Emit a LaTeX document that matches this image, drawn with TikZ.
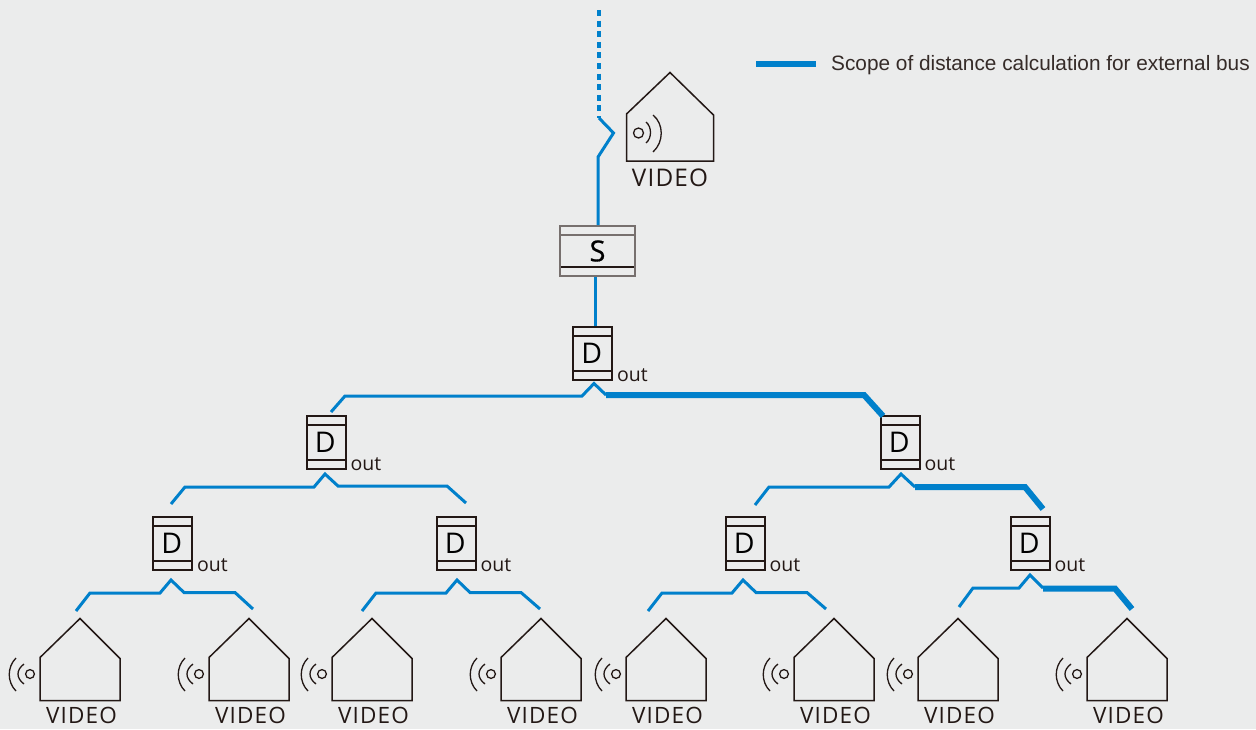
\documentclass[tikz,border=0pt]{standalone}
\usepackage{fontspec}
\setmainfont{Open Sans}
\newfontfamily\legendfont{Liberation Sans}
\newfontfamily\videofont[LetterSpace=5]{Open Sans}
\newfontfamily\sfont[FakeBold=0.6]{Open Sans}
\definecolor{bg}{HTML}{EBECEC}
\definecolor{bus}{HTML}{0080CB}
\definecolor{ink}{HTML}{231815}
\tikzset{
  x=1pt,y=-1pt,
  busline/.style={draw=bus,line width=3pt,line join=miter},
  busthick/.style={draw=bus,line width=6pt,line join=miter},
  busdash/.style={draw=bus,line width=3.4pt,dash pattern=on 6pt off 4.6pt},
  outline/.style={draw=ink,line width=1.5pt,line join=miter},
  dbox/.style={draw=ink,line width=2pt,minimum width=39pt,minimum height=53pt,inner sep=0pt,
    font=\fontsize{28.5}{28.5}\selectfont,
    path picture={
      \draw[ink,line width=1.8pt] ([yshift=-9pt]path picture bounding box.north west) -- ([yshift=-9pt]path picture bounding box.north east);
      \draw[ink,line width=1.8pt] ([yshift=9pt]path picture bounding box.south west) -- ([yshift=9pt]path picture bounding box.south east);
    }},
  sbox/.style={draw=ink!62,line width=2pt,minimum width=75pt,minimum height=50pt,inner sep=0pt,
    font=\sfont\fontsize{29}{29}\selectfont,
    path picture={
      \draw[ink!62,line width=1.5pt] ([yshift=-9pt]path picture bounding box.north west) -- ([yshift=-9pt]path picture bounding box.north east);
      \draw[ink,line width=1.5pt] ([yshift=9pt]path picture bounding box.south west) -- ([yshift=9pt]path picture bounding box.south east);
    }},
  outlabel/.style={font=\fontsize{19.5}{19.5}\selectfont,text=ink,inner sep=0pt,anchor=base west},
  videolabel/.style={font=\videofont\fontsize{22.5}{22.5}\selectfont,text=ink,inner sep=0pt,anchor=base},
  videotop/.style={font=\videofont\fontsize{24.3}{24.3}\selectfont,text=ink,inner sep=0pt,anchor=base},
  legendlabel/.style={font=\legendfont\fontsize{20.8}{20.8}\selectfont,text=ink!92,inner sep=0pt,anchor=base west},
  housebody/.style={minimum width=80pt,minimum height=82pt,inner sep=0pt},
}
% #1 name, #2 apex x: house with aerial to the left and its label
\newcommand{\camhouse}[2]{%
  \node[housebody,anchor=north] (#1) at (#2,618.5) {};
  \draw[outline] (#1.north) -- ++(-40,39) -- ++(0,43) -- ++(80,0) -- ++(0,-42) -- cycle;
  \draw[ink,line width=1.3pt] (#2-50,674) circle (4.4);
  \draw[ink,line width=1.3pt] (#2-56,664) .. controls (#2-64,670) and (#2-64,678) .. (#2-56,684);
  \draw[ink,line width=1.3pt] (#2-64,658) .. controls (#2-73,667) and (#2-73,682) .. (#2-64,691);
  \node[videolabel] (#1t) at (#2+1.5,723.3) {VIDEO};
}
\newcommand{\distbox}[2]{%
  \node[dbox] (#1) at (#2) {\kern-1.5pt D};
  \node[outlabel] at ([xshift=4pt,yshift=0pt]#1.south east) {out};
}
\begin{document}
\begin{tikzpicture}
\useasboundingbox[fill=bg] (0,0) rectangle (1256,729);

% legend
\coordinate (la) at (756,64);
\coordinate (lb) at (816,64);
\draw[busthick] (la) -- (lb);
\node[legendlabel] (legend) at (831,70) {Scope of distance calculation for external bus};

% door station
\node[housebody,anchor=north,minimum width=87pt,minimum height=89pt] (vs) at (670,72.5) {};
\draw[outline] (vs.north) -- (626.5,114) -- (626.5,161) -- (713.5,161) -- (713.5,115) -- cycle;
\draw[ink,line width=1.3pt] (638.5,133) circle (5);
\draw[ink,line width=1.3pt] (646,122) .. controls (652,127) and (652,138) .. (646,143);
\draw[ink,line width=1.3pt] (653,115) .. controls (664,124) and (664,142) .. (653,152);
\node[videotop] (vst) at (670,186.3) {VIDEO};

% switcher
\node[sbox] (s) at (597.5,251) {S};
% distributors
\distbox{d1}{592.5,353.5}
\distbox{d2}{326,442.5}
\distbox{d3}{900,442.5}
\distbox{d4}{172.5,543.5}
\distbox{d5}{456,543.5}
\distbox{d6}{745,543.5}
\distbox{d7}{1030,543.5}

% houses
\camhouse{h1}{80}
\camhouse{h2}{249}
\camhouse{h3}{372}
\camhouse{h4}{541}
\camhouse{h5}{666}
\camhouse{h6}{834}
\camhouse{h7}{958}
\camhouse{h8}{1127}

% riser
\coordinate (top) at (599,10);
\coordinate (jog) at (599,118);
\draw[busdash] (top) -- (jog);
\draw[busline] (jog) -- (613.5,133) -- (598,157) -- (s.north -| 598,0);
\draw[busline] (s.south -| d1.north) ++(3,0) -- ([xshift=3pt]d1.north);

% level 1
\draw[busline] (d2.north) ++(5,-3) -- (345,396) -- (582,396) -- (594,383.5) -- (606,395);
\draw[busthick] (606,395) -- (864,395) -- ([yshift=-1pt,xshift=-17pt]d3.north);

% level 2 left
\draw[busline] (171,504) -- (185,487) -- (314,487) -- (325,474) -- (338,486) -- (447,486) -- (466,503);
% level 2 right
\draw[busline] (755,505) -- (769,487) -- (889,487) -- (901,474) -- (915,487);
\draw[busthick] (915,487) -- (1025,487) -- (1043,509);

% level 3
\draw[busline] (76,611) -- (90,593) -- (160,593) -- (171,580) -- (184,592.5) -- (235,592.5) -- (253,609);
\draw[busline] (362,611) -- (376,593) -- (446,593) -- (457,580) -- (470,592.5) -- (521,592.5) -- (540,609);
\draw[busline] (648,611) -- (662,593) -- (732,593) -- (743,580) -- (756,592.5) -- (807,592.5) -- (826,609);
\draw[busline] (959,607) -- (973,588) -- (1019,588) -- (1030,575) -- (1043,588);
\draw[busthick] (1043,588.5) -- (1115,588.5) -- (1132,609);
\end{tikzpicture}
\end{document}
